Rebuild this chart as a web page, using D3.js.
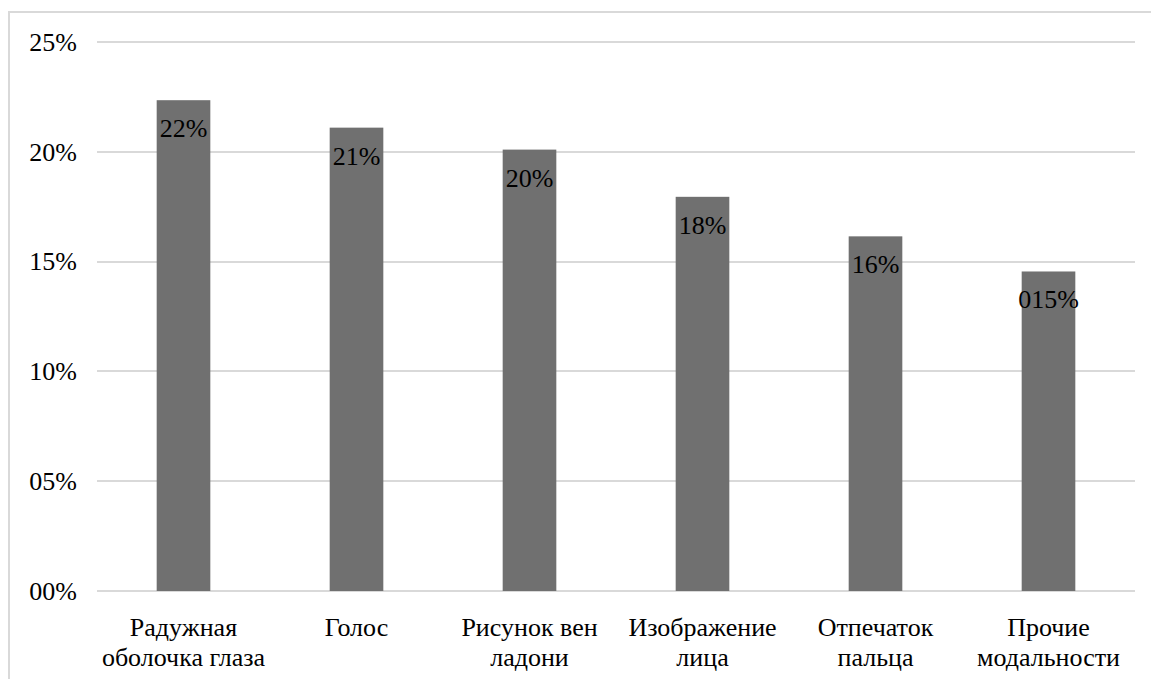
<!DOCTYPE html>
<html>
<head>
<meta charset="utf-8">
<script src="https://cdn.jsdelivr.net/npm/d3@7"></script>
<style>
  html, body { margin: 0; padding: 0; background: #fff; }
  svg { display: block; }
  text { font-family: "Liberation Serif", "Times New Roman", serif; fill: #000; }
</style>
</head>
<body>
<svg id="chart" width="1151" height="679"></svg>
<script>
// Biometric modality shares
const categories = [
  ["Радужная", "оболочка глаза"],
  ["Голос"],
  ["Рисунок вен", "ладони"],
  ["Изображение", "лица"],
  ["Отпечаток", "пальца"],
  ["Прочие", "модальности"]
];
const values = [0.2235, 0.211, 0.201, 0.1795, 0.1615, 0.1455];
const valueLabels = ["22%", "21%", "20%", "18%", "16%", "015%"];
const tickValues = [0, 0.05, 0.10, 0.15, 0.20, 0.25];
const tickLabels = ["00%", "05%", "10%", "15%", "20%", "25%"];

const W = 1151, H = 679;
const margin = { top: 42, right: 16, bottom: 88, left: 97 };
const svg = d3.select("#chart");

// Outer frame (left and top edges visible)
svg.append("path")
  .attr("d", `M9,${H} V12 H${W}`)
  .attr("fill", "none")
  .attr("stroke", "#d9d9d9")
  .attr("stroke-width", 2);

const x = d3.scaleBand()
  .domain(d3.range(categories.length))
  .range([margin.left, W - margin.right])
  .paddingInner(0.69)
  .paddingOuter(0.345);

const y = d3.scaleLinear()
  .domain([0, 0.25])
  .range([H - margin.bottom, margin.top]);

// Horizontal gridlines
svg.append("g")
  .selectAll("line")
  .data(tickValues)
  .join("line")
  .attr("x1", margin.left)
  .attr("x2", W - margin.right)
  .attr("y1", d => Math.round(y(d)))
  .attr("y2", d => Math.round(y(d)))
  .attr("stroke", "#d9d9d9")
  .attr("stroke-width", 2);

// Y axis labels
const yAxis = d3.axisLeft(y)
  .tickValues(tickValues)
  .tickFormat((d, i) => tickLabels[i])
  .tickSize(0)
  .tickPadding(20);
const yg = svg.append("g")
  .attr("transform", `translate(${margin.left},0)`)
  .call(yAxis);
yg.select(".domain").remove();
yg.selectAll("text")
  .style("font-family", '"Liberation Serif", "Times New Roman", serif')
  .style("font-size", "26px")
  .attr("fill", "#000");

// Bars
svg.append("g")
  .selectAll("rect")
  .data(values)
  .join("rect")
  .attr("x", (d, i) => x(i))
  .attr("y", d => y(d))
  .attr("width", x.bandwidth())
  .attr("height", d => y(0) - y(d))
  .attr("fill", "#707070");

// Value labels inside bar tops
svg.append("g")
  .selectAll("text")
  .data(values)
  .join("text")
  .attr("x", (d, i) => x(i) + x.bandwidth() / 2)
  .attr("y", d => y(d) + 37)
  .attr("text-anchor", "middle")
  .style("font-size", "26px")
  .text((d, i) => valueLabels[i]);

// Category labels (two lines)
const xg = svg.append("g");
categories.forEach((lines, i) => {
  const t = xg.append("text")
    .attr("x", x(i) + x.bandwidth() / 2)
    .attr("y", y(0) + 45)
    .attr("text-anchor", "middle")
    .style("font-size", "26px");
  lines.forEach((ln, j) => {
    t.append("tspan")
      .attr("x", x(i) + x.bandwidth() / 2)
      .attr("dy", j === 0 ? 0 : 30)
      .text(ln);
  });
});
</script>
</body>
</html>
